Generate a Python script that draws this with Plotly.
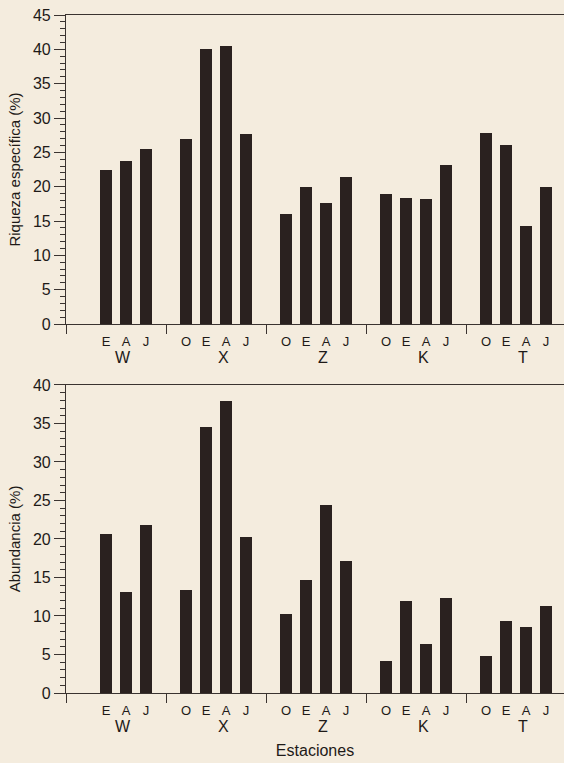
import plotly.graph_objects as go

groups = ["W", "X", "Z", "K", "T"]
seasons = ["O", "E", "A", "J"]

# Riqueza específica (%) per group, seasons O, E, A, J (None = no data)
riqueza = {
    "W": [None, 22.5, 23.8, 25.5],
    "X": [26.9, 40.0, 40.5, 27.7],
    "Z": [16.0, 20.0, 17.6, 21.4],
    "K": [19.0, 18.4, 18.2, 23.2],
    "T": [27.8, 26.1, 14.3, 20.0],
}
# Abundancia (%)
abundancia = {
    "W": [None, 20.7, 13.1, 21.8],
    "X": [13.4, 34.5, 37.9, 20.3],
    "Z": [10.3, 14.7, 24.4, 17.1],
    "K": [4.2, 12.0, 6.4, 12.4],
    "T": [4.8, 9.4, 8.6, 11.3],
}

BG = "#F4ECDE"
BAR = "#2A211F"
LINE = "#3A3330"
TXT = "#1E1A18"
FONT = "Liberation Sans"

xs, rv, av, tv, tt = [], [], [], [], []
for g, name in enumerate(groups):
    for s, sea in enumerate(seasons):
        x = 5 * g + s + 1
        if riqueza[name][s] is not None:
            xs.append(x)
            rv.append(riqueza[name][s])
            av.append(abundancia[name][s])
            tv.append(x)
            tt.append(sea)

fig = go.Figure()
fig.add_trace(go.Bar(x=xs, y=rv, width=0.6, marker=dict(color=BAR, line=dict(width=0)),
                     xaxis="x", yaxis="y", showlegend=False))
fig.add_trace(go.Bar(x=xs, y=av, width=0.6, marker=dict(color=BAR, line=dict(width=0)),
                     xaxis="x2", yaxis="y2", showlegend=False))

def xax(anchor, title=None):
    d = dict(
        anchor=anchor, range=[0, 24.9], domain=[0, 1],
        showline=True, linecolor=LINE, linewidth=1.2, mirror=True,
        showgrid=False, zeroline=False,
        tickmode="array", tickvals=tv, ticktext=tt,
        ticks="outside", ticklen=5, tickcolor="rgba(0,0,0,0)",
        tickfont=dict(family=FONT, size=13, color=TXT),
        minor=dict(ticks="outside", ticklen=9, tickcolor=LINE, tick0=0, dtick=5, showgrid=False),
    )
    if title:
        d["title"] = dict(text=title, font=dict(family=FONT, size=16, color=TXT), standoff=28)
    return d

def yax(anchor, domain, rng, title):
    return dict(
        anchor=anchor, domain=domain, range=rng,
        showline=True, linecolor=LINE, linewidth=1.2,
        showgrid=False, zeroline=False,
        tickmode="linear", tick0=0, dtick=5,
        ticks="outside", ticklen=11, tickcolor=LINE,
        tickfont=dict(family=FONT, size=16, color=TXT),
        minor=dict(ticks="outside", ticklen=5, tickcolor=LINE, dtick=1, showgrid=False),
        title=dict(text=title, font=dict(family=FONT, size=15, color=TXT), standoff=8),
    )

fig.update_layout(
    width=564, height=763,
    margin=dict(l=66, r=0, t=15, b=70),
    paper_bgcolor=BG, plot_bgcolor=BG,
    bargap=0,
    xaxis=xax("y"),
    yaxis=yax("x", [0.5442, 1.0], [0, 45], "Riqueza específica (%)"),
    xaxis2=xax("y2", "Estaciones"),
    yaxis2=yax("x2", [0.0, 0.4543], [0, 40], "Abundancia (%)"),
)

ann = []
for g, name in enumerate(groups):
    for yr in ["y domain", "y2 domain"]:
        ann.append(dict(x=5 * g + 2.85, xref="x" if yr == "y domain" else "x2",
                        y=0, yref=yr, yshift=-33, yanchor="middle",
                        text=name, showarrow=False,
                        font=dict(family=FONT, size=16, color=TXT)))
fig.update_layout(annotations=ann)

fig.write_html("out.html", config={"displayModeBar": False},
               post_script="document.body.style.margin='0';document.body.style.background='%s';" % BG)
